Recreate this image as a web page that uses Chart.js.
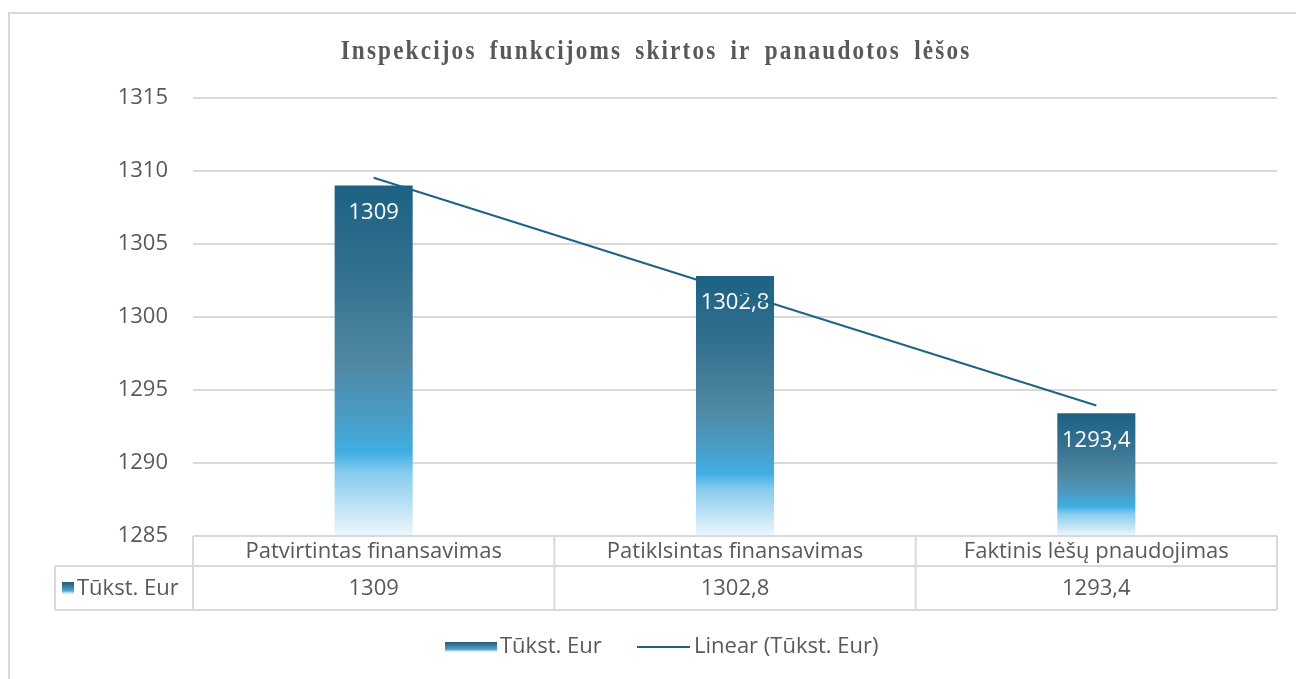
<!DOCTYPE html>
<html>
<head>
<meta charset="utf-8">
<script src="https://cdn.jsdelivr.net/npm/chart.js@4.4.1/dist/chart.umd.min.js"></script>
<style>
  html, body { margin: 0; padding: 0; background: #fff; overflow: hidden; }
  #frame { position: absolute; left: 8px; top: 12px; width: 1400px; height: 800px; border: 2px solid #d9d9d9; }
  #wrap { position: absolute; left: 0; top: 0; width: 1296px; height: 679px; }
</style>
</head>
<body>
<div id="frame"></div>
<div id="wrap"><canvas id="chart"></canvas></div>
<script>
// chart data
const chartTitle = 'Inspekcijos funkcijoms skirtos ir panaudotos lėšos'
const categories = ['Patvirtintas finansavimas', 'Patiklsintas finansavimas', 'Faktinis lėšų pnaudojimas']
const seriesName = 'Tūkst. Eur'
const trendName = 'Linear (Tūkst. Eur)'
const values = [1309, 1302.8, 1293.4]
const yTicks = [1285, 1290, 1295, 1300, 1305, 1310, 1315]

const FONT = '"Open Sans", Roboto, sans-serif'
const GREY = '#595959'
const GRID = '#d9d9d9'

// Excel style linear trend (least squares on 1..n)
function linearTrend(ys) {
  const n = ys.length
  const xs = ys.map((_, i) => i + 1)
  const mx = xs.reduce((a, b) => a + b, 0) / n
  const my = ys.reduce((a, b) => a + b, 0) / n
  let num = 0, den = 0
  xs.forEach((x, i) => { num += (x - mx) * (ys[i] - my); den += (x - mx) ** 2 })
  const slope = num / den
  return xs.map(x => my + slope * (x - mx))
}

const fmt = v => String(v).replace('.', ',')

function barGradient(ctx, top, bottom) {
  const g = ctx.createLinearGradient(0, top, 0, bottom)
  g.addColorStop(0, '#1d6283')
  g.addColorStop(0.25, '#33708f')
  g.addColorStop(0.5, '#4f87a2')
  g.addColorStop(0.66, '#4a9cc6')
  g.addColorStop(0.76, '#40aee2')
  g.addColorStop(0.82, '#86cbee')
  g.addColorStop(1, '#eef7fc')
  return g
}

// data labels inside the bars, drawn before the trend line
const barLabels = {
  id: 'barLabels',
  afterDatasetDraw(chart, args) {
    if (args.meta.type !== 'bar') return
    const ctx = chart.ctx
    ctx.save()
    ctx.fillStyle = '#ffffff'
    ctx.font = '22px ' + FONT
    ctx.textAlign = 'center'
    ctx.textBaseline = 'middle'
    args.meta.data.forEach((bar, i) => {
      ctx.fillText(fmt(values[i]), bar.x, bar.y + 27)
    })
    ctx.restore()
  }
}

// title, data table and legend
const extras = {
  id: 'extras',
  afterDraw(chart) {
    const ctx = chart.ctx
    const x = chart.scales.x
    const y = chart.scales.y
    ctx.save()

    // title
    ctx.font = 'bold 27px "Liberation Serif", "Times New Roman", serif'
    ctx.letterSpacing = '2.5px'
    ctx.wordSpacing = '6px'
    ctx.fillStyle = GREY
    ctx.textAlign = 'center'
    ctx.textBaseline = 'alphabetic'
    ctx.translate(656, 59)
    ctx.scale(0.86, 1)
    ctx.fillText(chartTitle, 0, 0)
    ctx.setTransform(1, 0, 0, 1, 0, 0)
    ctx.letterSpacing = '0px'
    ctx.wordSpacing = '0px'

    // data table
    const top = y.bottom
    const mid = top + 30
    const bot = top + 74
    const left = 55
    const cw = x.width / categories.length
    const edges = categories.map((_, i) => x.left + i * cw).concat([x.right])
    ctx.strokeStyle = GRID
    ctx.lineWidth = 2
    ctx.beginPath()
    ctx.moveTo(x.left, top); ctx.lineTo(x.right, top)
    ctx.moveTo(left, mid); ctx.lineTo(x.right, mid)
    ctx.moveTo(left, bot); ctx.lineTo(x.right, bot)
    edges.forEach(e => { ctx.moveTo(e, top); ctx.lineTo(e, bot) })
    ctx.moveTo(left, mid); ctx.lineTo(left, bot)
    ctx.stroke()

    ctx.font = '22px ' + FONT
    ctx.fillStyle = GREY
    ctx.textAlign = 'center'
    ctx.textBaseline = 'middle'
    categories.forEach((c, i) => {
      const cx = x.getPixelForValue(i)
      ctx.fillText(c, cx, (top + mid) / 2 + 1)
      ctx.fillText(fmt(values[i]), cx, (mid + bot) / 2 + 1)
    })
    ctx.fillStyle = barGradient(ctx, (mid + bot) / 2 - 6, (mid + bot) / 2 + 6)
    ctx.fillRect(left + 7, (mid + bot) / 2 - 6, 12, 12)
    ctx.fillStyle = GREY
    ctx.textAlign = 'left'
    ctx.fillText(seriesName, left + 22, (mid + bot) / 2 + 1)

    // legend
    const ly = 647
    ctx.fillStyle = barGradient(ctx, ly - 5, ly + 5)
    ctx.fillRect(445, ly - 5, 52, 10)
    ctx.fillStyle = GREY
    ctx.fillText(seriesName, 500, ly)
    ctx.strokeStyle = '#1e6485'
    ctx.lineWidth = 2
    ctx.beginPath()
    ctx.moveTo(637, ly); ctx.lineTo(690, ly)
    ctx.stroke()
    ctx.fillText(trendName, 694, ly)

    ctx.restore()
  }
}

new Chart(document.getElementById('chart'), {
  data: {
    labels: categories,
    datasets: [
      {
        type: 'line',
        label: trendName,
        data: linearTrend(values),
        borderColor: '#1e6485',
        borderWidth: 2,
        pointRadius: 0,
        order: 0,
      },
      {
        type: 'bar',
        label: seriesName,
        data: values,
        order: 1,
        categoryPercentage: 1,
        barPercentage: 0.216,
        backgroundColor: (c) => {
          const chart = c.chart
          if (!chart.chartArea || c.raw === undefined) return '#1d6283'
          const ys = chart.scales.y
          return barGradient(chart.ctx, ys.getPixelForValue(c.raw), ys.bottom)
        },
      },
    ],
  },
  options: {
    responsive: true,
    maintainAspectRatio: false,
    animation: false,
    layout: { padding: { left: 8, right: 19, top: 98, bottom: 69 } },
    plugins: {
      legend: { display: false },
      tooltip: { enabled: false },
    },
    scales: {
      x: {
        ticks: { display: false },
        grid: { display: false },
        border: { display: false },
        afterFit: s => { s.height = 74 },
      },
      y: {
        min: yTicks[0],
        max: yTicks[yTicks.length - 1],
        afterBuildTicks: s => { s.ticks = yTicks.map(v => ({ value: v })) },
        ticks: { color: GREY, font: { family: FONT, size: 22 }, padding: 25, callback: v => String(v) },
        grid: { color: GRID, lineWidth: 2, drawTicks: false },
        border: { display: false },
        afterFit: s => { s.width = 185 },
      },
    },
  },
  plugins: [barLabels, extras],
})
</script>
</body>
</html>
